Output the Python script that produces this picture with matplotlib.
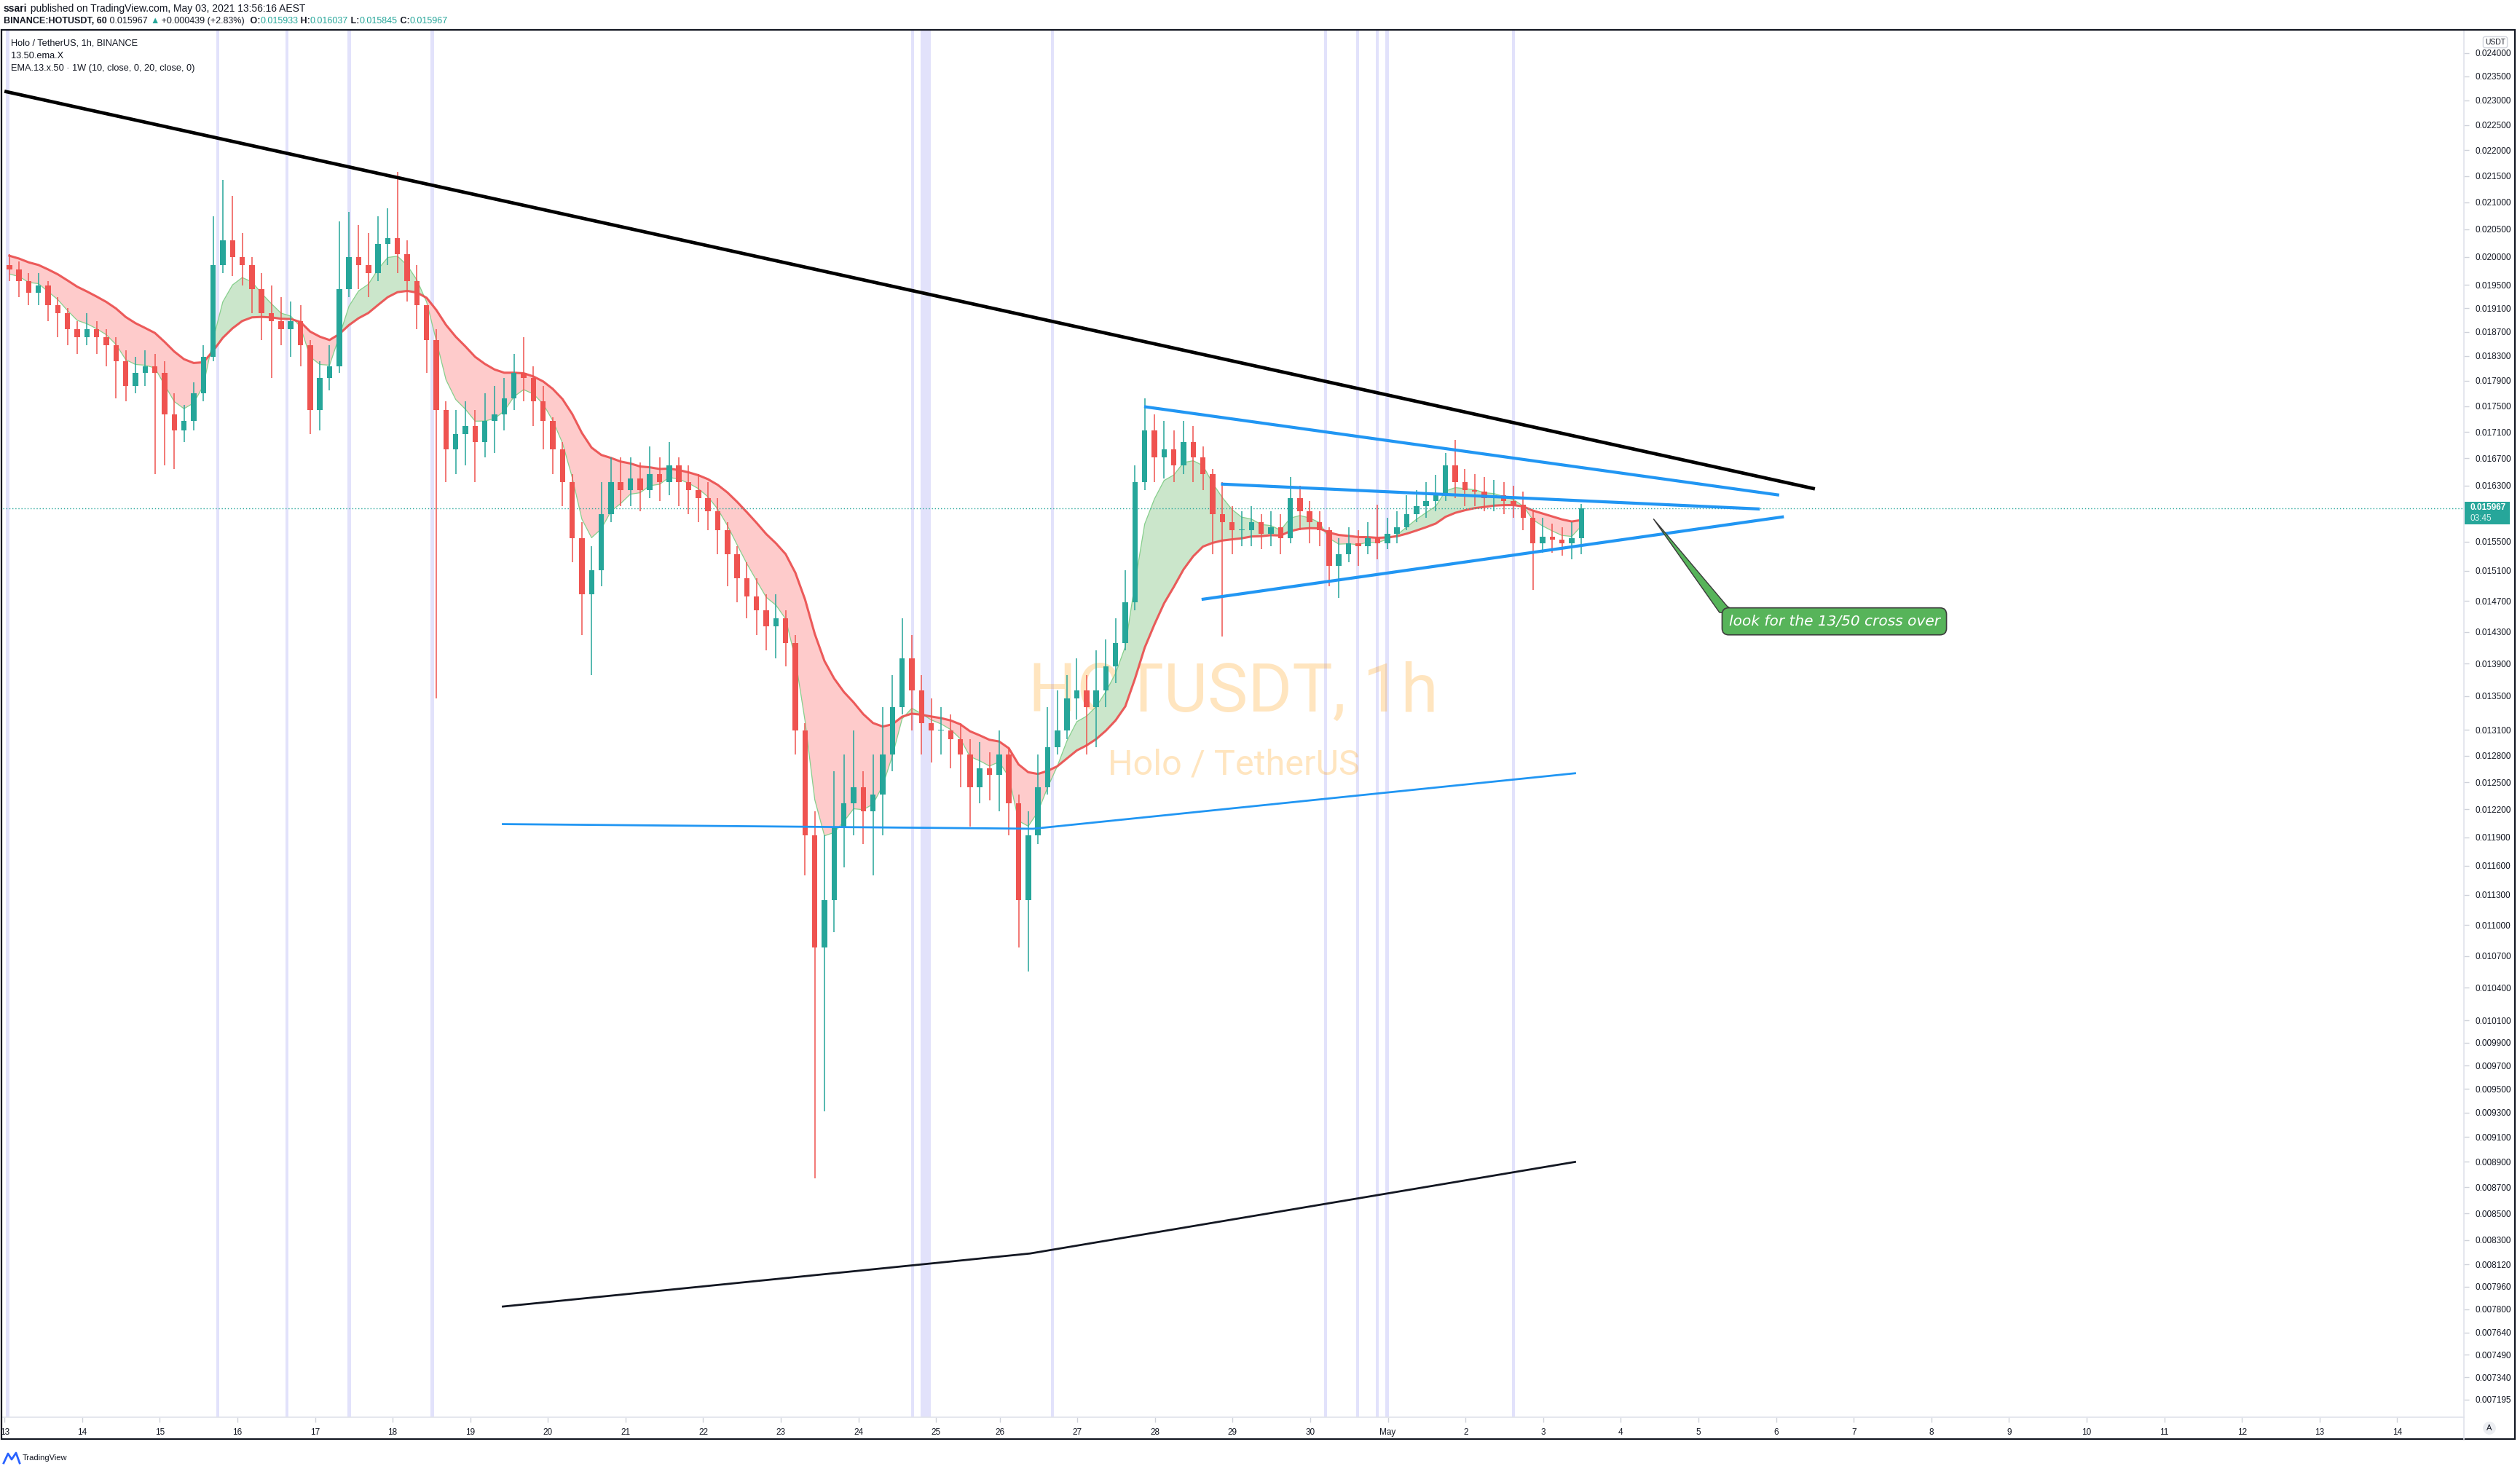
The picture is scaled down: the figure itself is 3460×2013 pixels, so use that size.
import numpy as np
import matplotlib.pyplot as plt
from matplotlib.patches import Rectangle, Polygon
from matplotlib.lines import Line2D
from matplotlib.ticker import NullLocator

plt.rcParams['font.family'] = ['Liberation Sans', 'DejaVu Sans']

W, H = 3460, 2013

# ---- HOTUSDT, 3h bars (Apr 13 00:00 -> May 3 13:00) ----
first_open = 0.01985
close = [
    0.01977, 0.01957, 0.01937, 0.01949, 0.01915, 0.01901, 0.01874, 0.01861,  # Apr 13
    0.01874, 0.01861, 0.01848, 0.01821, 0.01782, 0.01803, 0.01813, 0.01803,  # Apr 14
    0.01737, 0.01712, 0.01727, 0.01770, 0.01829, 0.01985, 0.02029, 0.02000,  # Apr 15
    0.01985, 0.01943, 0.01901, 0.01888, 0.01874, 0.01888, 0.01848, 0.01744,  # Apr 16
    0.01795, 0.01813, 0.01943, 0.02000, 0.01985, 0.01971, 0.02023, 0.02034,  # Apr 17
    0.02005, 0.01957, 0.01915, 0.01856, 0.01744, 0.01683, 0.01707, 0.01719,  # Apr 18
    0.01695, 0.01727, 0.01737, 0.01762, 0.01803, 0.01795, 0.01757, 0.01727,  # Apr 19
    0.01683, 0.01635, 0.01555, 0.01479, 0.01511, 0.01589, 0.01635, 0.01623,  # Apr 20
    0.01640, 0.01623, 0.01647, 0.01635, 0.01659, 0.01635, 0.01623, 0.01612,  # Apr 21
    0.01593, 0.01566, 0.01533, 0.01500, 0.01476, 0.01458, 0.01437, 0.01447,  # Apr 22
    0.01416, 0.01309, 0.01192, 0.01078, 0.01125, 0.01201, 0.01227, 0.01244,  # Apr 23
    0.01218, 0.01236, 0.01281, 0.01337, 0.01396, 0.01357, 0.01318, 0.01309,  # Apr 24
    0.01309, 0.01299, 0.01281, 0.01244, 0.01266, 0.01258, 0.01281,           # Apr 25
    0.01227, 0.01125, 0.01192, 0.01244, 0.01290, 0.01309, 0.01347, 0.01357,  # Apr 26
    0.01337, 0.01357, 0.01386, 0.01416, 0.01468, 0.01635, 0.01712, 0.01671,  # Apr 27
    0.01683, 0.01659, 0.01695, 0.01671, 0.01647, 0.01589, 0.01577, 0.01566,  # Apr 28
    0.01566, 0.01577, 0.01561, 0.01570, 0.01555, 0.01612, 0.01593, 0.01577,  # Apr 29
    0.01566, 0.01517, 0.01533, 0.01548, 0.01544, 0.01555, 0.01548, 0.01561,  # Apr 30
    0.01570, 0.01589, 0.01600, 0.01607, 0.01616, 0.01659, 0.01635, 0.01623,  # May 1
    0.01621, 0.01612, 0.01616, 0.01607, 0.01602, 0.01584, 0.01548, 0.01557,  # May 2
    0.01553, 0.01548, 0.01555, 0.015967,                                     # May 3
]
high = [
    0.02005, 0.01991, 0.01971, 0.01971, 0.01957, 0.01929, 0.01910, 0.01888,
    0.01901, 0.01888, 0.01874, 0.01861, 0.01840, 0.01829, 0.01840, 0.01834,
    0.01821, 0.01770, 0.01752, 0.01787, 0.01848, 0.02073, 0.02142, 0.02112,
    0.02043, 0.02000, 0.01971, 0.01949, 0.01929, 0.01921, 0.01915, 0.01856,
    0.01821, 0.01848, 0.02064, 0.02082, 0.02058, 0.02043, 0.02073, 0.02088,
    0.02158, 0.02029, 0.01985, 0.01915, 0.01874, 0.01757, 0.01744, 0.01757,
    0.01744, 0.01770, 0.01782, 0.01795, 0.01834, 0.01861, 0.01813, 0.01782,
    0.01732, 0.01695, 0.01647, 0.01577, 0.01544, 0.01635, 0.01671, 0.01671,
    0.01671, 0.01664, 0.01688, 0.01671, 0.01695, 0.01671, 0.01659, 0.01647,
    0.01635, 0.01612, 0.01577, 0.01544, 0.01522, 0.01500, 0.01479, 0.01479,
    0.01458, 0.01426, 0.01318, 0.01218, 0.01192, 0.01262, 0.01281, 0.01309,
    0.01262, 0.01281, 0.01337, 0.01376, 0.01447, 0.01426, 0.01376, 0.01347,
    0.01337, 0.01328, 0.01318, 0.01299, 0.01296, 0.01284, 0.01309,
    0.01290, 0.01236, 0.01218, 0.01281, 0.01337, 0.01357, 0.01376, 0.01396,
    0.01376, 0.01406, 0.01420, 0.01447, 0.01511, 0.01659, 0.01762, 0.01737,
    0.01727, 0.01712, 0.01727, 0.01719, 0.01688, 0.01654, 0.01635, 0.01600,
    0.01593, 0.01600, 0.01589, 0.01593, 0.01589, 0.01642, 0.01630, 0.01607,
    0.01593, 0.01570, 0.01555, 0.01570, 0.01566, 0.01577, 0.01602, 0.01584,
    0.01593, 0.01616, 0.01623, 0.01635, 0.01645, 0.01678, 0.01698, 0.01654,
    0.01647, 0.01642, 0.01638, 0.01635, 0.01630, 0.01621, 0.01593, 0.01584,
    0.01575, 0.01570, 0.01577, 0.016037,
]
low = [
    0.01957, 0.01929, 0.01915, 0.01915, 0.01888, 0.01861, 0.01848, 0.01834,
    0.01848, 0.01834, 0.01813, 0.01762, 0.01757, 0.01770, 0.01782, 0.01647,
    0.01659, 0.01654, 0.01695, 0.01712, 0.01757, 0.01821, 0.01971, 0.01966,
    0.01949, 0.01901, 0.01856, 0.01795, 0.01848, 0.01829, 0.01813, 0.01707,
    0.01712, 0.01775, 0.01803, 0.01929, 0.01943, 0.01929, 0.01957, 0.01985,
    0.01971, 0.01921, 0.01874, 0.01803, 0.01347, 0.01635, 0.01647, 0.01659,
    0.01635, 0.01671, 0.01678, 0.01712, 0.01744, 0.01757, 0.01719, 0.01683,
    0.01647, 0.01600, 0.01522, 0.01426, 0.01376, 0.01489, 0.01577, 0.01600,
    0.01600, 0.01593, 0.01612, 0.01607, 0.01616, 0.01600, 0.01589, 0.01577,
    0.01566, 0.01533, 0.01489, 0.01468, 0.01447, 0.01426, 0.01406, 0.01396,
    0.01386, 0.01281, 0.01150, 0.00877, 0.00931, 0.01093, 0.01158, 0.01192,
    0.01183, 0.01150, 0.01192, 0.01262, 0.01328, 0.01309, 0.01281, 0.01272,
    0.01281, 0.01266, 0.01244, 0.01201, 0.01227, 0.01230, 0.01218,
    0.01192, 0.01078, 0.01055, 0.01183, 0.01236, 0.01281, 0.01299, 0.01322,
    0.01281, 0.01290, 0.01337, 0.01366, 0.01406, 0.01458, 0.01623, 0.01635,
    0.01640, 0.01635, 0.01647, 0.01635, 0.01623, 0.01533, 0.01424, 0.01533,
    0.01544, 0.01544, 0.01540, 0.01544, 0.01533, 0.01548, 0.01566, 0.01548,
    0.01544, 0.01489, 0.01474, 0.01522, 0.01517, 0.01533, 0.01526, 0.01540,
    0.01548, 0.01566, 0.01577, 0.01584, 0.01593, 0.01607, 0.01612, 0.01600,
    0.01600, 0.01593, 0.01593, 0.01589, 0.01584, 0.01566, 0.01485, 0.01535,
    0.01535, 0.01531, 0.01526, 0.01533,
]
last_price = 0.015967
ema_fast_seed = 0.01965
ema_slow_seed = 0.02005

# date axis (days counted in bars; ~4h of missing bars on Apr 25)
date_labels = ['13', '14', '15', '16', '17', '18', '19', '20', '21', '22', '23',
               '24', '25', '26', '27', '28', '29', '30', 'May', '2', '3', '4',
               '5', '6', '7', '8', '9', '10', '11', '12', '13', '14']
gap_days = 0.18
price_ticks = [0.024, 0.0235, 0.023, 0.0225, 0.022, 0.0215, 0.021, 0.0205, 0.020,
               0.0195, 0.0191, 0.0187, 0.0183, 0.0179, 0.0175, 0.0171, 0.0167,
               0.0163, 0.0155, 0.0151, 0.0147, 0.0143, 0.0139, 0.0135, 0.0131,
               0.0128, 0.0125, 0.0122, 0.0119, 0.0116, 0.0113, 0.0110, 0.0107,
               0.0104, 0.0101, 0.0099, 0.0097, 0.0095, 0.0093, 0.0091, 0.0089,
               0.0087, 0.0085, 0.0083, 0.00812, 0.00796, 0.0078, 0.00764,
               0.00749, 0.00734, 0.007195]

# highlighted sessions (lavender bands), in days
band_start = [0.02, 2.73, 3.62, 4.42, 5.49, 11.68, 11.80, 13.48, 17.00, 17.41, 17.66, 17.79, 19.42]
band_end = [0.06, 2.77, 3.66, 4.46, 5.53, 11.72, 11.93, 13.52, 17.04, 17.45, 17.70, 17.83, 19.46]

# drawings
black_top_d, black_top_p = [0.0, 23.32], [0.02319, 0.01625]
black_low_d, black_low_p = [6.42, 13.21, 20.23], [0.00782, 0.00820, 0.00890]
blue_low_d, blue_low_p = [6.42, 13.25, 20.23], [0.01204, 0.01199, 0.01260]
blue_upper_d, blue_upper_p = [14.68, 22.86], [0.01749, 0.01616]
blue_mid_d, blue_mid_p = [15.67, 22.61], [0.01632, 0.01596]
blue_lower_d, blue_lower_p = [15.42, 22.92], [0.01472, 0.01585]
note_text = 'look for the 13/50 cross over'
note_d, note_p = 23.57, 0.014434
tail_d = [21.24, 22.09, 22.40, 22.19]
tail_p = [0.01582, 0.01455, 0.01450, 0.01463]


def ema(values, length, seed, bar_hours=3):
    a = 1 - (1 - 2 / (length + 1)) ** bar_hours
    out = []
    v = seed
    for c in values:
        v += a * (c - v)
        out.append(v)
    return np.array(out)


close = np.array(close)
open_ = np.r_[first_open, close[:-1]]
high = np.maximum(np.array(high), np.maximum(open_, close))
low = np.minimum(np.array(low), np.minimum(open_, close))
n = len(close)
x = np.arange(n) / 8 + 1 / 16
colors = np.where(close >= open_, '#26a69a', '#ef5350')

fast = ema(close, 13, ema_fast_seed)
slow = ema(close, 50, ema_slow_seed)

fig = plt.figure(figsize=(W / 100, H / 100), dpi=100)
ax = fig.add_axes([4 / W, 1 - 1946 / H, (3383 - 4) / W, (1946 - 41) / H])
ax.set_yscale('log')
ax.set_xlim(-0.02, 31.68)
ax.set_ylim(0.007083, 0.02450)

for s, e in zip(band_start, band_end):
    ax.axvspan(s, e, color='#e2e2fb', lw=0, zorder=0)

ax.text(0.5, 0.5223, 'HOTUSDT, 1h', transform=ax.transAxes, ha='center', va='center',
        fontsize=67, color='#ff9800', alpha=0.25, zorder=0.5, family='Roboto')
ax.text(0.5, 0.4703, 'Holo / TetherUS', transform=ax.transAxes, ha='center', va='center',
        fontsize=35, color='#ff9800', alpha=0.25, zorder=0.5, family='Roboto')

ax.fill_between(x, fast, slow, where=fast >= slow, interpolate=True, color='#cbe6cb', lw=0, zorder=1)
ax.fill_between(x, fast, slow, where=fast < slow, interpolate=True, color='#fecbcb', lw=0, zorder=1)
ax.plot(x, fast, color='#86cf8c', lw=0.9, zorder=2)
ax.plot(x, slow, color='#ea4b4b', lw=2.2, alpha=0.9, zorder=2)

# candles
body_lo = np.minimum(open_, close)
body_hi = np.maximum(np.maximum(open_, close), body_lo * 1.0008)
ax.vlines(x, low, high, colors=colors, lw=1.1, zorder=3)
ax.bar(x, body_hi - body_lo, bottom=body_lo, width=0.07, color=colors, lw=0, zorder=3)

ax.axhline(last_price, color='#26a69a', lw=1, ls=(0, (1, 2)), zorder=2.5)

# trend lines
ax.plot(black_top_d, black_top_p, color='#000000', lw=3.4, zorder=4, solid_capstyle='butt')
ax.plot(black_low_d, black_low_p, color='#131722', lw=2.0, zorder=4)
ax.plot(blue_low_d, blue_low_p, color='#2196f3', lw=2.0, zorder=4)
for dd, pp in [(blue_upper_d, blue_upper_p), (blue_mid_d, blue_mid_p), (blue_lower_d, blue_lower_p)]:
    ax.plot(dd, pp, color='#2196f3', lw=3.0, zorder=4, solid_capstyle='butt')

# callout
ax.add_patch(Polygon(list(zip(tail_d, tail_p)), closed=True, fc='#57b45a', ec='#3a3a3a', lw=1, zorder=5))
ax.text(note_d, note_p, note_text, ha='center', va='center', fontsize=14.5, style='italic',
        color='white', family='DejaVu Sans', zorder=6,
        bbox=dict(boxstyle='round,pad=0.45,rounding_size=0.45', fc='#57b45a', ec='#3d3d3d', lw=1.2))

# axes
ax.yaxis.tick_right()
ax.set_yticks(price_ticks, labels=[f'{v:.6f}' for v in price_ticks])
ax.yaxis.set_minor_locator(NullLocator())
tick_pos = [i if i < 13 else i - gap_days for i in range(len(date_labels))]
ax.set_xticks(tick_pos, labels=date_labels)
ax.xaxis.set_minor_locator(NullLocator())
ax.tick_params(axis='y', length=5, width=1, color='#cfd2da', labelsize=8.5,
               labelcolor='#131722', pad=6)
ax.tick_params(axis='x', length=5, width=1, color='#cfd2da', labelsize=8.5,
               labelcolor='#131722', pad=6)
for side in ['top', 'left']:
    ax.spines[side].set_visible(False)
for side in ['right', 'bottom']:
    ax.spines[side].set_color('#e0e3eb')
    ax.spines[side].set_linewidth(1.2)

# current price label
yp = ax.transData.transform((0, last_price))[1]
fig.add_artist(Rectangle((3384 / W, (yp - 22) / H), 62 / W, 31 / H, transform=fig.transFigure,
                         fc='#26a69a', ec='none'))
fig.text(3392 / W, (yp + 1) / H, f'{last_price:.6f}', color='white', fontsize=8.5,
         fontweight='bold', va='center')
fig.text(3392 / W, (yp - 14) / H, '03:45', color='#d9f2ef', fontsize=8.5, va='center')

fig.text(3426 / W, 1 - 58 / H, 'USDT', ha='center', va='center', fontsize=7.5, color='#131722',
         bbox=dict(boxstyle='round,pad=0.25', fc='white', ec='#d1d4dc', lw=1))
fig.text(3418 / W, 1 - 1961 / H, 'A', ha='center', va='center', fontsize=8, color='#131722',
         bbox=dict(boxstyle='circle,pad=0.35', fc='#eceef2', ec='none'))

fig.add_artist(Line2D([3383 / W, 3383 / W], [1 - 1946 / H, 1 - 1976 / H], color='#e0e3eb',
                      lw=1.2, transform=fig.transFigure))
fig.add_artist(Rectangle((2 / W, 1 - 1976 / H), (3453 - 2) / W, (1976 - 41) / H,
                         transform=fig.transFigure, fill=False, ec='#131722', lw=1.6))


# header lines with mixed styles
def text_run(px, py, parts, size=8.5):
    t = fig.text(px / W, 1 - py / H, parts[0][0], color=parts[0][1],
                 fontweight=parts[0][2], fontsize=size, va='center')
    for s, c, wgt in parts[1:]:
        t = ax.annotate(s, xy=(1, 0), xycoords=t, va='bottom', ha='left', color=c,
                        fontweight=wgt, fontsize=size, annotation_clip=False)


ink, teal = '#131722', '#26a69a'
text_run(5, 12, [('ssari', ink, 'bold'),
                 (' published on TradingView.com, May 03, 2021 13:56:16 AEST', ink, 'normal')],
         size=10)
text_run(5, 29, [('BINANCE:HOTUSDT, 60', ink, 'bold'), (' 0.015967 ', ink, 'normal'),
                 ('▲', teal, 'normal'), (' +0.000439 (+2.83%) ', ink, 'normal'),
                 (' O:', ink, 'bold'), ('0.015933', teal, 'normal'),
                 (' H:', ink, 'bold'), ('0.016037', teal, 'normal'),
                 (' L:', ink, 'bold'), ('0.015845', teal, 'normal'),
                 (' C:', ink, 'bold'), ('0.015967', teal, 'normal')], size=9)

fig.text(15 / W, 1 - 60 / H, 'Holo / TetherUS, 1h, BINANCE', fontsize=9.2, color=ink, va='center')
fig.text(15 / W, 1 - 77 / H, '13.50.ema.X', fontsize=9.2, color=ink, va='center')
fig.text(15 / W, 1 - 94 / H, 'EMA.13.x.50 · 1W (10, close, 0, 20, close, 0)', fontsize=9.2,
         color=ink, va='center')

# TradingView footer
fig.add_artist(Line2D(np.array([5, 11, 16, 22, 27]) / W, 1 - np.array([2009, 1996, 2004, 1995, 2009]) / H,
                      color='#2962ff', lw=2, transform=fig.transFigure))
fig.text(31 / W, 1 - 2002 / H, 'TradingView', fontsize=8, color=ink, va='center')

fig.savefig('out.png', dpi=100)
plt.close(fig)
